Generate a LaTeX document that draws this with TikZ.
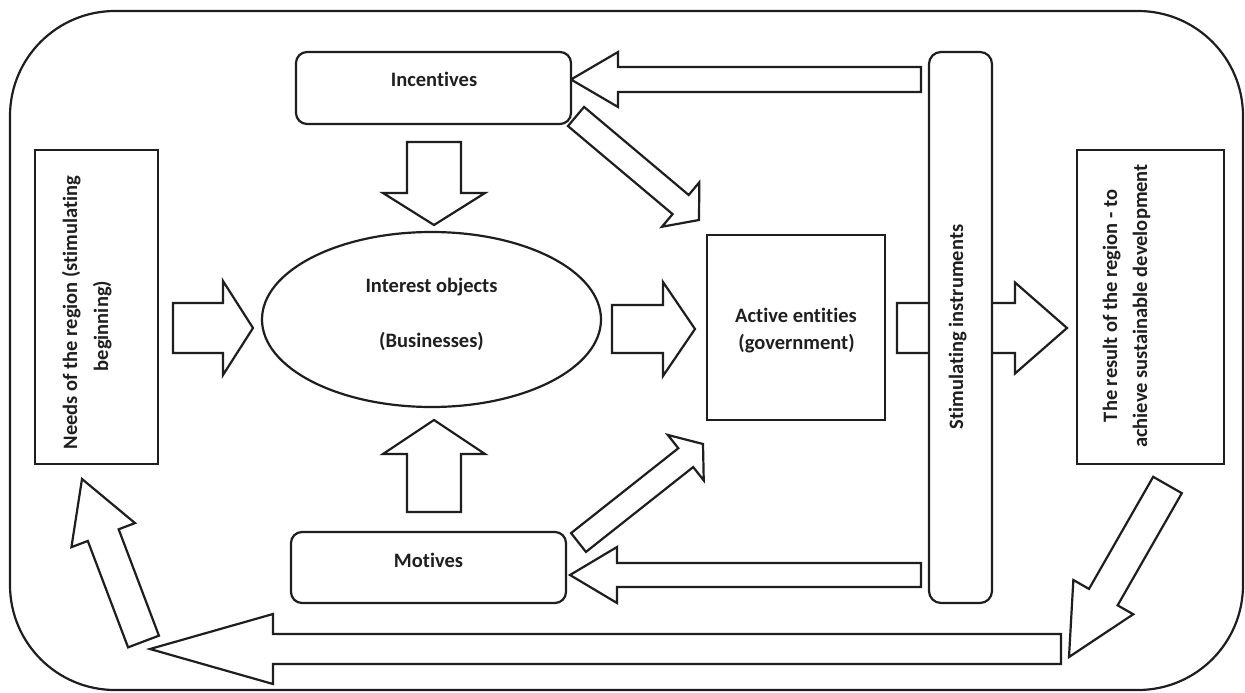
\documentclass[tikz,border=0pt]{standalone}
\usepackage{fontspec}
\setmainfont{Carlito}[Ligatures={NoCommon}]
\usetikzlibrary{calc,shapes.geometric}
\definecolor{ln}{HTML}{1E1E1E}
\definecolor{tx}{HTML}{1F1F1F}
% block arrow: #1 tail coord, #2 tip coord, #3 shaft half width, #4 head half width, #5 head length
\newcommand\blockarrow[5]{%
  \coordinate (ba-m) at ($(#2)!#5!(#1)$);
  \draw[barrow] ($(#1)!#3!90:(#2)$) -- ($(ba-m)!#3!90:(#2)$) -- ($(ba-m)!#4!90:(#2)$)
    -- (#2) -- ($(ba-m)!#4!-90:(#2)$) -- ($(ba-m)!#3!-90:(#2)$) -- ($(#1)!#3!-90:(#2)$) -- cycle;}
\begin{document}
\begin{tikzpicture}[x=1pt,y=-1pt,
  every node/.style={inner sep=0pt, outer sep=0pt},
  box/.style={draw=ln, fill=white, line width=2.2pt},
  barrow/.style={draw=ln, fill=white, line width=2.2pt, line join=miter},
  txt/.style={text=tx, font=\fontsize{20.5}{25}\selectfont\bfseries, anchor=base}]
\useasboundingbox (0,0) rectangle (1245,693);
% outer frame
\node[box, rounded corners=105pt, minimum width=1233pt, minimum height=679pt] (frame) at (626.5,350.5) {};
% arrow end points
\coordinate (a1t) at (921,79.5);    \coordinate (a1h) at (571,79.5);
\coordinate (a2t) at (576,116.5);   \coordinate (a2h) at (699,220);
\coordinate (a3t) at (434,142);     \coordinate (a3h) at (434,225);
\coordinate (a4t) at (434,512);     \coordinate (a4h) at (434,420);
\coordinate (a5t) at (173,328);     \coordinate (a5h) at (253,328);
\coordinate (a6t) at (612,329);     \coordinate (a6h) at (695,329);
\coordinate (a7t) at (897,328);     \coordinate (a7h) at (1067,328);
\coordinate (a8t) at (578.5,542.5); \coordinate (a8h) at (703,444);
\coordinate (a9t) at (921,575);     \coordinate (a9h) at (570,575);
\coordinate (a10t) at (1167.5,485); \coordinate (a10h) at (1069,657);
\coordinate (a11t) at (1061,649);   \coordinate (a11h) at (150,649);
\coordinate (a12t) at (143.5,641.5);\coordinate (a12h) at (82,479);
% arrows
\blockarrow{a1t}{a1h}{12.5pt}{27.5pt}{47pt}
\blockarrow{a2t}{a2h}{12.5pt}{29pt}{24pt}
\blockarrow{a3t}{a3h}{27pt}{51pt}{32pt}
\blockarrow{a4t}{a4h}{27pt}{51pt}{34pt}
\blockarrow{a5t}{a5h}{25pt}{47pt}{30pt}
\blockarrow{a6t}{a6h}{24pt}{47pt}{32pt}
\blockarrow{a7t}{a7h}{25pt}{45.5pt}{52pt}
\blockarrow{a8t}{a8h}{12pt}{29pt}{22pt}
\blockarrow{a9t}{a9h}{12pt}{28pt}{47pt}
\blockarrow{a10t}{a10h}{16.5pt}{34.5pt}{69pt}
\blockarrow{a11t}{a11h}{15pt}{35pt}{123pt}
\blockarrow{a12t}{a12h}{16.5pt}{34pt}{60pt}
% boxes
\node[box, rounded corners=11pt, minimum width=275pt, minimum height=72pt] (inc) at (433.5,88) {};
\node[box, rounded corners=11pt, minimum width=275pt, minimum height=71pt] (mot) at (428.5,567.5) {};
\node[box, minimum width=123pt, minimum height=314pt] (need) at (96.5,307) {};
\node[box, ellipse, minimum width=339pt, minimum height=175pt] (int) at (431.5,319.5) {};
\node[box, minimum width=178pt, minimum height=185pt] (act) at (796,327.5) {};
\node[box, rounded corners=12pt, minimum width=63pt, minimum height=551pt] (stim) at (960.5,327.5) {};
\node[box, minimum width=147pt, minimum height=314pt] (res) at (1150.5,307) {};
% texts
\node[txt] (inct) at (434,86) {Incentives};
\node[txt] (mott) at (428.5,567) {Motives};
\node[txt] (intt1) at (431.5,292) {Interest objects};
\node[txt] (intt2) at (431.5,347) {(Businesses)};
\node[txt] (actt1) at (796,322) {Active entities};
\node[txt] (actt2) at (796.5,349) {(government)};
\node[txt, rotate=90] (stimt) at (963,327) {Stimulating instruments};
\node[txt, rotate=90] (needt1) at (77,312.5) {Needs of the region (stimulating};
\node[txt, rotate=90] (needt2) at (108,326) {beginning)};
\node[txt, rotate=90] (rest1) at (1117,306) {The result of the region - to};
\node[txt, rotate=90] (rest2) at (1147,306) {achieve sustainable development};
\end{tikzpicture}
\end{document}
